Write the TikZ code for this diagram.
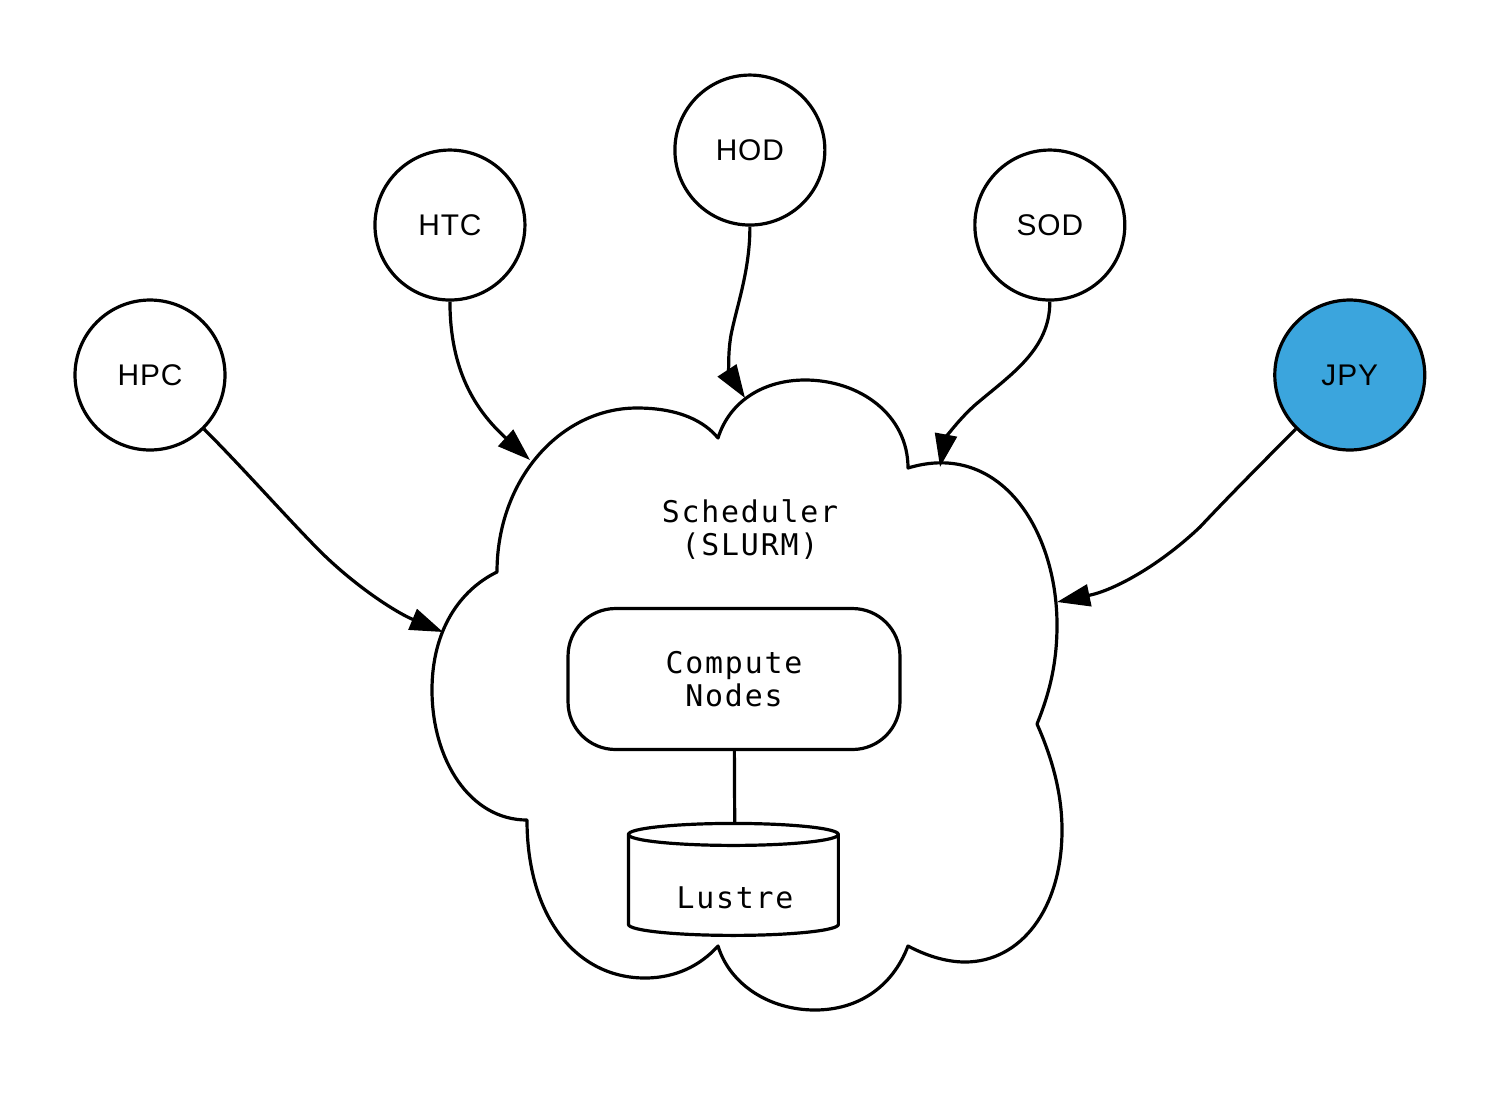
\documentclass[tikz,border=0pt]{standalone}
\usepackage{fontspec}
\newfontfamily\labelfont[LetterSpace=3]{Liberation Sans}
\newfontfamily\monofont[LetterSpace=6]{DejaVu Sans Mono}
\usetikzlibrary{arrows.meta}
\usetikzlibrary{positioning}
\definecolor{jpyblue}{RGB}{59,165,221}

\begin{document}
\begin{tikzpicture}[x=0.02cm,y=-0.02cm,>={Triangle[length=0.66cm,width=0.44cm]},
	line width=0.064cm,line join=round,node distance=3cm,on grid,
	main node/.style={circle,draw,minimum size=3cm,inner sep=0pt,
		font=\labelfont\fontsize{17}{20}\selectfont},
	mono text/.style={font=\monofont\fontsize{17}{18.8}\selectfont,align=center},
	box node/.style={draw,rectangle,rounded corners=0.95cm,minimum width=6.64cm,
		minimum height=2.82cm,mono text},
	store node/.style={rectangle,minimum width=4.2cm,minimum height=2.24cm,inner sep=0pt}]
	
	\useasboundingbox (0,0) rectangle (1500,1106);
	
	% service circles
	\node[main node] (hpc) at (150,375) {HPC};
	\node[main node] (htc) [above right=3cm and 6cm of hpc] {HTC};
	\node[main node] (hod) [above right=1.5cm and 6cm of htc] {HOD};
	\node[main node] (sod) [below right=1.5cm and 6cm of hod] {SOD};
	\node[main node,fill=jpyblue] (jpy) [below right=3cm and 6cm of sod] {JPY};
	
	% the cluster cloud
	\draw (497,572) .. controls (497,480) and (560,408) .. (637,408)
		.. controls (680,408) and (705,422) .. (718,438)
		.. controls (730,400) and (765,380) .. (805,380)
		.. controls (860,380) and (908,415) .. (908,468)
		.. controls (1000,440) and (1057,530) .. (1057,625)
		.. controls (1057,662) and (1050,692) .. (1037,724)
		.. controls (1053,760) and (1062,795) .. (1062,830)
		.. controls (1062,910) and (1020,962) .. (965,962)
		.. controls (945,962) and (925,955) .. (908,946)
		.. controls (892,988) and (857,1010) .. (815,1010)
		.. controls (770,1010) and (730,985) .. (718,946)
		.. controls (700,966) and (675,978) .. (645,978)
		.. controls (575,978) and (527,915) .. (527,820)
		.. controls (470,820) and (432,760) .. (432,690)
		.. controls (432,630) and (460,590) .. (497,572) -- cycle;
	
	\node[mono text] (sched) at (750,530) {Scheduler\\(SLURM)};
	\node[box node] (compute) at (734,679) {Compute\\Nodes};
	\node[store node,label={[mono text,yshift=-0.34cm]center:Lustre}] (lustre) at (735,881) {};
	\draw (lustre.north west) ++(0cm,-0.22cm) coordinate (lw)
		arc[start angle=180,end angle=540,x radius=2.1cm,y radius=0.22cm]
		-- ++(0cm,-1.8cm) arc[start angle=180,end angle=360,x radius=2.1cm,y radius=0.22cm]
		-- ++(0cm,1.8cm);
	\draw (compute) -- (lustre);
	
	% entry points on the cloud
	\coordinate (hpc in) at (443,632);
	\coordinate (htc in) at (530,460);
	\coordinate (hod in) at (745,398);
	\coordinate (sod in) at (940,467);
	\coordinate (jpy in) at (1057,602);
	
	\draw[->] (hpc.-45) .. controls (240,465) and (280,510) .. (312,543)
		.. controls (350,583) and (395,612) .. (hpc in);
	\draw[->] (htc.south) .. controls (450,370) and (475,410) .. (htc in);
	\draw[->] (hod.south) .. controls (750,270) and (737,305) .. (731,335)
		.. controls (727,358) and (730,375) .. (hod in);
	\draw[->] (sod.south) .. controls (1050,350) and (1010,375) .. (975,405)
		.. controls (955,423) and (945,440) .. (sod in);
	\draw[->] (jpy.225) .. controls (1265,460) and (1230,495) .. (1200,527)
		.. controls (1160,565) and (1115,590) .. (jpy in);
\end{tikzpicture}
\end{document}
